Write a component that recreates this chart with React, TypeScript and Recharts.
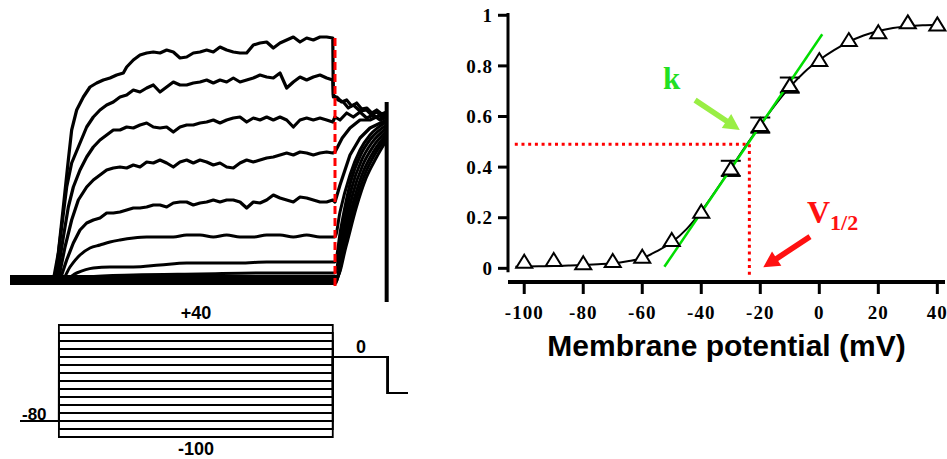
import { LineChart, ComposedChart, Line, Scatter, XAxis, YAxis, ErrorBar, Label } from 'recharts';

// ---- left panel: current traces (time in ms, current in nA) ----
const sweepA = [[-78,0],[0,0],[9,0.27],[18,0.73],[27,1.2],[33,1.5],[42,1.7],[54,1.83],[66,1.93],[78,1.97],[90,2.0],[102,2.02],[114,2.05],[126,2.07],[132,2.13],[144,2.2],[156,2.25],[168,2.27],[180,2.28],[192,2.27],[204,2.3],[216,2.28],[228,2.22],[240,2.23],[252,2.27],[264,2.28],[276,2.3],[288,2.28],[300,2.33],[312,2.3],[324,2.28],[336,2.27],[348,2.27],[360,2.35],[372,2.37],[384,2.38],[396,2.32],[408,2.37],[420,2.4],[432,2.43],[444,2.38],[456,2.42],[468,2.4],[480,2.43],[492,2.43],[503,2.42],[504,1.83],[510,1.83],[519,1.78],[528,1.8],[537,1.74],[546,1.77],[555,1.71],[564,1.72],[573,1.67],[582,1.7],[591,1.66],[600,1.68]];
const sweepB = [[-78,0],[3,0],[15,0.53],[24,0.93],[33,1.17],[45,1.33],[60,1.53],[72,1.63],[84,1.7],[96,1.75],[108,1.78],[120,1.83],[132,1.85],[144,1.9],[156,1.88],[168,1.92],[180,1.95],[192,1.88],[204,1.93],[216,1.98],[228,1.95],[240,1.95],[252,1.97],[264,1.98],[276,2.0],[288,1.97],[300,2.0],[312,1.98],[324,2.02],[336,1.98],[348,2.0],[360,2.02],[372,2.05],[384,2.03],[396,2.02],[408,2.07],[420,1.92],[432,1.98],[444,2.03],[456,2.0],[468,2.03],[480,2.05],[492,2.02],[503,2.0],[504,1.85],[513,1.8],[522,1.78],[531,1.72],[540,1.75],[552,1.69],[564,1.7],[573,1.65],[582,1.68],[591,1.64],[600,1.66]];
const sweepC = [[-78,0],[6,0],[18,0.43],[27,0.73],[36,0.93],[48,1.1],[60,1.23],[72,1.33],[84,1.4],[96,1.45],[108,1.5],[120,1.5],[132,1.53],[144,1.52],[156,1.55],[168,1.57],[180,1.53],[192,1.52],[204,1.53],[216,1.48],[228,1.53],[240,1.55],[252,1.55],[264,1.57],[276,1.58],[288,1.6],[300,1.57],[312,1.6],[324,1.62],[336,1.63],[348,1.58],[360,1.62],[372,1.6],[384,1.63],[396,1.6],[408,1.63],[420,1.6],[432,1.53],[444,1.6],[456,1.62],[468,1.6],[480,1.62],[492,1.6],[503,1.58],[507,1.63],[516,1.6],[528,1.67],[540,1.63],[552,1.68],[564,1.62],[576,1.65],[588,1.6],[600,1.63]];
const sweepD = [[-78,0],[9,0],[21,0.33],[33,0.6],[45,0.8],[60,0.93],[72,1.0],[84,1.05],[96,1.1],[108,1.12],[120,1.13],[132,1.12],[144,1.15],[156,1.13],[168,1.18],[180,1.17],[192,1.2],[204,1.17],[216,1.13],[228,1.18],[240,1.2],[252,1.17],[264,1.2],[276,1.18],[288,1.15],[300,1.17],[312,1.13],[324,1.12],[336,1.17],[348,1.2],[360,1.18],[372,1.2],[384,1.22],[396,1.23],[408,1.25],[420,1.27],[432,1.25],[444,1.28],[456,1.27],[468,1.25],[480,1.27],[492,1.28],[503,1.27],[507,1.28],[520,1.42],[534,1.52],[552,1.6],[570,1.6],[585,1.64],[600,1.62]];
const sweepE = [[-78,0],[12,0],[24,0.2],[36,0.37],[48,0.5],[60,0.57],[72,0.6],[84,0.62],[96,0.67],[108,0.67],[120,0.68],[132,0.7],[144,0.72],[156,0.72],[168,0.73],[180,0.75],[192,0.75],[204,0.73],[216,0.77],[228,0.78],[240,0.78],[252,0.75],[264,0.77],[276,0.78],[288,0.8],[300,0.78],[312,0.8],[324,0.8],[336,0.78],[348,0.72],[360,0.78],[372,0.77],[384,0.8],[396,0.85],[408,0.82],[420,0.8],[432,0.78],[444,0.83],[456,0.82],[468,0.8],[480,0.78],[492,0.78],[503,0.8],[507,0.78],[516,0.95],[534,1.25],[552,1.42],[570,1.52],[600,1.6]];
const sweepF = [[-78,0],[15,0],[30,0.13],[48,0.25],[66,0.32],[84,0.35],[102,0.38],[120,0.4],[144,0.42],[168,0.43],[192,0.43],[216,0.43],[240,0.45],[264,0.45],[288,0.43],[312,0.45],[336,0.43],[360,0.43],[384,0.45],[408,0.45],[432,0.43],[456,0.45],[480,0.43],[503,0.43],[507,0.43],[516,0.68],[534,1.05],[552,1.3],[570,1.45],[600,1.58]];
const sweepG = [[-78,0],[18,0],[42,0.07],[72,0.12],[102,0.13],[144,0.13],[192,0.15],[240,0.17],[288,0.17],[336,0.17],[384,0.18],[432,0.18],[480,0.18],[503,0.18],[507,0.18],[517,0.5],[535,0.98],[553,1.25],[571,1.41],[600,1.55]];
const sweepH = [[-78,0],[21,0],[60,0.03],[144,0.05],[264,0.06],[384,0.07],[503,0.07],[507,0.07],[519,0.45],[537,0.92],[555,1.2],[573,1.37],[600,1.52]];
const sweepI = [[-78,-0.035],[508,-0.035],[521,0.4],[539,0.86],[557,1.15],[575,1.33],[600,1.49]];
const sweepJ = [[-78,-0.012],[509,-0.012],[523,0.38],[541,0.8],[559,1.1],[577,1.29],[600,1.46]];
const sweepK = [[-78,0.012],[510,0.012],[525,0.36],[543,0.76],[561,1.06],[579,1.26],[600,1.43]];
const sweepL = [[-78,0.035],[511,0.035],[527,0.34],[545,0.72],[563,1.02],[581,1.22],[600,1.4]];
const smoothSweeps = [sweepL, sweepK, sweepJ, sweepI, sweepH, sweepG, sweepF];
const noisySweeps = [sweepE, sweepD, sweepC, sweepB, sweepA];

const pulseEndMark = [[507, 2.42], [507, -0.07]];
const offsetMark = [[600, 1.78], [600, -0.22]];

// ---- voltage protocol (mV) ----
const stepLevels = [40, 30, 20, 10, 0, -10, -20, -30, -40, -50, -60, -70, -80, -90, -100];
const protoTimes = [-60, 10, 503, 602, 638];
const holdingV = -80;
const tailV = 0;
const postV = -45;

// ---- right panel: activation curve ----
const ptsV = [-100, -90, -80, -70, -60, -50, -40, -30, -20, -10, 0, 10, 20, 30, 40];
const ptsY = [0.026, 0.033, 0.02, 0.029, 0.046, 0.112, 0.224, 0.395, 0.566, 0.724, 0.823, 0.902, 0.933, 0.972, 0.964];
const ptsErr = [null, null, null, null, null, null, null, 0.03, 0.03, 0.03, null, null, null, null, null];
const fitV = [-103, -95, -90, -85, -80, -75, -70, -65, -60, -55, -50, -45, -40, -35, -30, -25, -20, -15, -10, -5, 0, 5, 10, 15, 20, 25, 30, 35, 40];
const fitY = [0.006, 0.008, 0.009, 0.011, 0.013, 0.016, 0.02, 0.028, 0.04, 0.068, 0.103, 0.155, 0.225, 0.308, 0.395, 0.482, 0.566, 0.645, 0.716, 0.776, 0.823, 0.862, 0.895, 0.92, 0.938, 0.95, 0.957, 0.961, 0.963];
const slopeLine = [[-52.5, 0.006], [1.0, 0.925]];
const halfV = -23.7;
const halfY = 0.49;
const kArrow = [[-42.1, 0.665], [-26.95, 0.547]];
const vArrow = [[-3.15, 0.125], [-18.98, 0.004]];
const xTicks = [-100, -80, -60, -40, -20, 0, 20, 40];
const yTicks = [0, 0.2, 0.4, 0.6, 0.8, 1];

const tp = (pairs: number[][]) => pairs.map(([t, i]) => ({ t, i }));
const vy = (pairs: number[][]) => pairs.map(([v, y]) => ({ v, y }));

const protoSweep = (lvl: number) =>
  [
    [protoTimes[0], holdingV], [protoTimes[1], holdingV], [protoTimes[1], lvl], [protoTimes[2], lvl],
    [protoTimes[2], tailV], [protoTimes[3], tailV], [protoTimes[3], postV], [protoTimes[4], postV],
  ].map(([t, v]) => ({ t, v }));

const serifTick = { fill: '#000', fontSize: 19, fontWeight: 'bold', fontFamily: 'Liberation Serif', letterSpacing: 1 };

const triangle = (props: any) => {
  const { cx, cy } = props;
  return (
    <polygon
      points={`${cx},${cy - 7} ${cx + 8},${cy + 6} ${cx - 8},${cy + 6}`}
      fill="#fff"
      stroke="#000"
      strokeWidth={2}
      strokeLinejoin="miter"
    />
  );
};

const arrowDot = (color: string) => (props: any) => {
  const { index, points } = props;
  if (index !== 1 || !points || points.length < 2) return <g key={`ad-${index}`} />;
  const a = points[0];
  const b = points[1];
  const dx = b.x - a.x;
  const dy = b.y - a.y;
  const len = Math.hypot(dx, dy);
  const ux = dx / len, uy = dy / len;
  const nx = -uy, ny = ux;
  const L = 16, W = 8.5, s = 2.8;
  const bx = b.x - L * ux, by = b.y - L * uy;
  const pts = [
    [a.x + s * nx, a.y + s * ny],
    [bx + s * nx, by + s * ny],
    [bx + W * nx, by + W * ny],
    [b.x, b.y],
    [bx - W * nx, by - W * ny],
    [bx - s * nx, by - s * ny],
    [a.x - s * nx, a.y - s * ny],
  ];
  return <polygon key={`ad-${index}`} points={pts.map((p) => p.join(',')).join(' ')} fill={color} stroke="none" />;
};

export default function App() {
  const points = ptsV.map((v, k) => ({ v, y: ptsY[k], err: ptsErr[k] }));
  const fit = fitV.map((v, k) => ({ v, y: fitY[k] }));

  return (
    <div style={{ position: 'fixed', left: 0, top: 0, width: 947, height: 459, background: '#fff', overflow: 'hidden' }}>
      {/* current traces */}
      <div style={{ position: 'absolute', left: 0, top: 0 }}>
        <LineChart width={400} height={310} margin={{ top: 30, right: 10, bottom: 5, left: 10 }}>
          <XAxis type="number" dataKey="t" domain={[-78, 606]} hide />
          <YAxis type="number" dataKey="i" domain={[-0.25, 2.5]} hide />
          {smoothSweeps.map((s, k) => (
            <Line
              key={`ss${k}`}
              data={tp(s)}
              dataKey="i"
              type="monotone"
              stroke="#000"
              strokeWidth={3}
              dot={false}
              isAnimationActive={false}
            />
          ))}
          {noisySweeps.map((s, k) => (
            <Line
              key={`ns${k}`}
              data={tp(s)}
              dataKey="i"
              type="linear"
              stroke="#000"
              strokeWidth={3.2}
              strokeLinejoin="round"
              dot={false}
              isAnimationActive={false}
            />
          ))}
          <Line data={tp(offsetMark)} dataKey="i" type="linear" stroke="#000" strokeWidth={4} dot={false} isAnimationActive={false} />
          <Line data={tp(pulseEndMark)} dataKey="i" type="linear" stroke="#ff0000" strokeWidth={3} strokeDasharray="8 4" dot={false} isAnimationActive={false} />
        </LineChart>
      </div>

      {/* voltage protocol */}
      <div style={{ position: 'absolute', left: 0, top: 300 }}>
        <LineChart width={420} height={160} margin={{ top: 17, right: 10, bottom: 15, left: 10 }}>
          <XAxis type="number" dataKey="t" domain={[-78, 642]} hide />
          <YAxis type="number" dataKey="v" domain={[-110, 50]} hide />
          {stepLevels.map((lvl) => (
            <Line
              key={`p${lvl}`}
              data={protoSweep(lvl)}
              dataKey="v"
              type="linear"
              stroke="#000"
              strokeWidth={1.8}
              dot={false}
              isAnimationActive={false}
            />
          ))}
        </LineChart>
      </div>

      {/* activation curve */}
      <div style={{ position: 'absolute', left: 440, top: 0 }}>
        <ComposedChart width={507} height={400} margin={{ top: 13, right: 2, left: 8, bottom: 43 }}>
          <XAxis
            type="number"
            dataKey="v"
            domain={[-105.5, 42.6]}
            ticks={xTicks}
            height={75}
            tickSize={12}
            tickMargin={12}
            axisLine={{ stroke: '#000', strokeWidth: 4 }}
            tickLine={{ stroke: '#000', strokeWidth: 3 }}
            tick={serifTick}
            interval={0}
          >
            <Label
              value="Membrane potential (mV)"
              position="insideBottom"
              offset={1}
              fill="#000"
              fontSize={30}
              fontWeight="bold"
              fontFamily="Liberation Sans"
            />
          </XAxis>
          <YAxis
            type="number"
            dataKey="y"
            domain={[-0.054, 1.009]}
            ticks={yTicks}
            width={60}
            tickSize={10}
            tickMargin={5}
            axisLine={false}
            tickLine={{ stroke: '#000', strokeWidth: 3 }}
            tick={serifTick}
            interval={0}
          />
          <Line data={vy([[-105.5, -0.015], [-105.5, 1.009]])} dataKey="y" type="linear" stroke="#000" strokeWidth={3} dot={false} isAnimationActive={false} />
          <Line data={fit} dataKey="y" type="monotone" stroke="#000" strokeWidth={2} dot={false} isAnimationActive={false} />
          <Line data={vy([[-103.2, halfY], [halfV, halfY]])} dataKey="y" type="linear" stroke="#ff0000" strokeWidth={3} strokeDasharray="3 3.7" dot={false} isAnimationActive={false} />
          <Line data={vy([[halfV, halfY], [halfV, -0.038]])} dataKey="y" type="linear" stroke="#ff0000" strokeWidth={3} strokeDasharray="3 3.7" dot={false} isAnimationActive={false} />
          <Scatter data={points} dataKey="y" shape={triangle} isAnimationActive={false}>
            <ErrorBar dataKey="err" direction="y" width={10} stroke="#000" strokeWidth={2} />
          </Scatter>
          <Line data={vy(slopeLine)} dataKey="y" type="linear" stroke="#00dd00" strokeWidth={2.5} dot={false} isAnimationActive={false} />
          <Line data={vy(kArrow)} dataKey="y" type="linear" stroke="none" dot={arrowDot('#99ee44')} isAnimationActive={false} />
          <Line data={vy(vArrow)} dataKey="y" type="linear" stroke="none" dot={arrowDot('#ff1111')} isAnimationActive={false} />
        </ComposedChart>
      </div>

      {/* annotations */}
      <svg width={947} height={459} style={{ position: 'absolute', left: 0, top: 0, pointerEvents: 'none' }}>
        <g fontFamily="Liberation Sans" fontWeight="bold" fill="#000">
          <text x={196} y={319} fontSize={18} textAnchor="middle">+40</text>
          <text x={196} y={455} fontSize={18} textAnchor="middle">-100</text>
          <text x={22} y={420} fontSize={17}>-80</text>
          <text x={361} y={353} fontSize={18} textAnchor="middle">0</text>
        </g>
        <text x={663} y={89} fontSize={31} fontFamily="Liberation Serif" fontWeight="bold" fill="#22e022">k</text>
        <text x={807} y={223} fontSize={32} fontFamily="Liberation Serif" fontWeight="bold" fill="#ff1111">
          V<tspan fontSize={22} dy={7}>1/2</tspan>
        </text>
      </svg>
    </div>
  );
}
